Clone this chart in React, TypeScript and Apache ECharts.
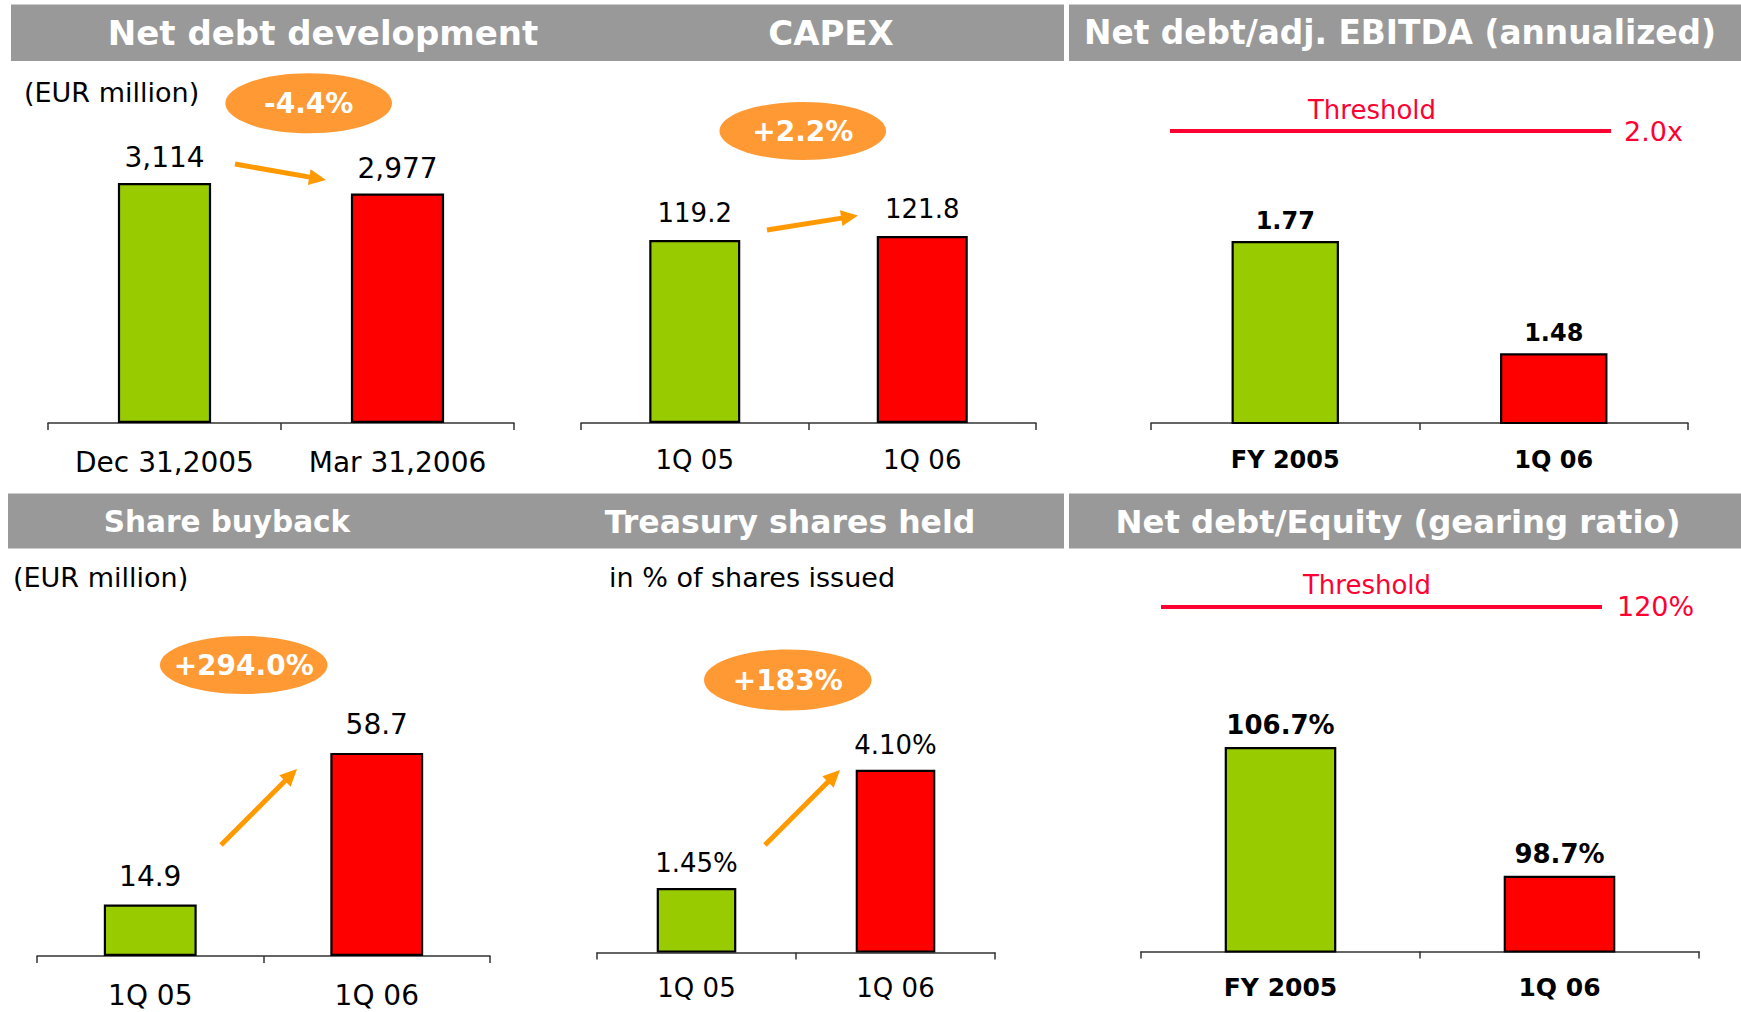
import React, { useEffect, useRef } from 'react';
import * as echarts from 'echarts';

// ---------- data ----------
const netDebtCategories = ['Dec 31,2005', 'Mar 31,2006'];
const netDebtValues = [3114, 2977];

const capexCategories = ['1Q 05', '1Q 06'];
const capexValues = [119.2, 121.8];

const ebitdaCategories = ['FY 2005', '1Q 06'];
const ebitdaValues = [1.77, 1.48];

const buybackCategories = ['1Q 05', '1Q 06'];
const buybackValues = [14.9, 58.7];

const treasuryCategories = ['1Q 05', '1Q 06'];
const treasuryValues = [1.45, 4.1];

const gearingCategories = ['FY 2005', '1Q 06'];
const gearingValues = [106.7, 98.7];

const panelTitles = [
  'Net debt development',
  'CAPEX',
  'Net debt/adj. EBITDA (annualized)',
  'Share buyback',
  'Treasury shares held',
  'Net debt/Equity (gearing ratio)',
];
const subtitles = ['(EUR million)', '(EUR million)', 'in % of shares issued'];
const changeLabels = ['-4.4%', '+2.2%', '+294.0%', '+183%'];
const thresholdLabel = 'Threshold';
const thresholdValues = ['2.0x', '120%'];

// ---------- styles ----------
const FONT = '"DejaVu Sans", Verdana, sans-serif';
const GREEN = '#99CC00';
const RED = '#FF0000';
const GRAY = '#999999';
const ORANGE_BG = '#FF9933';
const ORANGE = '#FF9900';
const THRESH = '#FF0033';

type Panel = {
  cats: string[];
  values: number[];
  fmt: (v: number) => string;
  left: number;
  width: number;
  top: number;
  height: number;
  min: number;
  max: number;
  labelSize: number;
  labelBold: boolean;
  labelDist: number;
  axisSize: number;
  axisBold: boolean;
  axisMargin: number;
  barWidth: string;
};

const panels: Panel[] = [
  { cats: netDebtCategories, values: netDebtValues, fmt: (v) => v.toLocaleString('en-US'),
    left: 48, width: 466, top: 114.7, height: 308.3, min: 0, max: 4000,
    labelSize: 28, labelBold: false, labelDist: 11, axisSize: 28, axisBold: false, axisMargin: 25, barWidth: '40%' },
  { cats: capexCategories, values: capexValues, fmt: (v) => v.toFixed(1),
    left: 581, width: 455, top: 116, height: 307, min: 0, max: 200,
    labelSize: 26, labelBold: false, labelDist: 14, axisSize: 26, axisBold: false, axisMargin: 24, barWidth: '40%' },
  { cats: ebitdaCategories, values: ebitdaValues, fmt: (v) => v.toFixed(2),
    left: 1151, width: 537, top: 113.3, height: 309.7, min: 1.3, max: 2.1,
    labelSize: 24, labelBold: true, labelDist: 8, axisSize: 24, axisBold: true, axisMargin: 25, barWidth: '40%' },
  { cats: buybackCategories, values: buybackValues, fmt: (v) => v.toFixed(1),
    left: 37, width: 453, top: 679.2, height: 276.8, min: 0, max: 80,
    labelSize: 28, labelBold: false, labelDist: 14, axisSize: 28, axisBold: false, axisMargin: 25, barWidth: '41%' },
  { cats: treasuryCategories, values: treasuryValues, fmt: (v) => v.toFixed(2) + '%',
    left: 597, width: 398, top: 729.6, height: 223, min: 0, max: 5,
    labelSize: 26, labelBold: false, labelDist: 12, axisSize: 26, axisBold: false, axisMargin: 22, barWidth: '40%' },
  { cats: gearingCategories, values: gearingValues, fmt: (v) => v.toFixed(1) + '%',
    left: 1141, width: 558, top: 613.5, height: 338, min: 94, max: 115,
    labelSize: 26, labelBold: true, labelDist: 9, axisSize: 25, axisBold: true, axisMargin: 23, barWidth: '40%' },
];

function arrow(x1: number, y1: number, x2: number, y2: number) {
  const dx = x2 - x1, dy = y2 - y1;
  const len = Math.sqrt(dx * dx + dy * dy);
  const ux = dx / len, uy = dy / len;
  const hl = 17, hw = 8;
  const bx = x2 - ux * hl, by = y2 - uy * hl;
  return [
    { type: 'line', shape: { x1, y1, x2: bx + ux * 2, y2: by + uy * 2 }, style: { stroke: ORANGE, lineWidth: 5 } },
    { type: 'polygon', shape: { points: [[x2, y2], [bx - uy * hw, by + ux * hw], [bx + uy * hw, by - ux * hw]] }, style: { fill: ORANGE } },
  ];
}

function txt(text: string, x: number, y: number, size: number, color: string, bold = false, align = 'center') {
  return {
    type: 'text', x, y,
    style: { text, fill: color, fontSize: size, fontWeight: bold ? 'bold' : 'normal', fontFamily: FONT, align, verticalAlign: 'middle' },
  };
}

function bubble(text: string, cx: number, cy: number, rx: number, ry: number) {
  return [
    { type: 'ellipse', shape: { cx, cy, rx, ry }, style: { fill: ORANGE_BG } },
    txt(text, cx, cy, 28, '#FFFFFF', true),
  ];
}

function threshold(label: string, val: string, x1: number, x2: number, y: number, labelX: number, labelY: number, valX: number, valY: number) {
  return [
    txt(label, labelX, labelY, 26, THRESH),
    { type: 'line', shape: { x1, y1: y, x2, y2: y }, style: { stroke: THRESH, lineWidth: 4 } },
    txt(val, valX, valY, 27, THRESH, false, 'left'),
  ];
}

export default function App() {
  const ref = useRef<HTMLDivElement>(null);
  useEffect(() => {
    document.body.style.margin = '0';
    const chart = echarts.init(ref.current!, undefined, { renderer: 'svg' });

    const graphic: any[] = [
      // headers
      { type: 'rect', shape: { x: 11, y: 4.5, width: 1053, height: 56.5 }, style: { fill: GRAY } },
      { type: 'rect', shape: { x: 1069, y: 4.5, width: 672, height: 56.5 }, style: { fill: GRAY } },
      { type: 'rect', shape: { x: 8, y: 493.5, width: 1056, height: 55 }, style: { fill: GRAY } },
      { type: 'rect', shape: { x: 1069, y: 493.5, width: 672, height: 55 }, style: { fill: GRAY } },
      txt(panelTitles[0], 323, 33, 34, '#FFFFFF', true),
      txt(panelTitles[1], 831, 33, 34, '#FFFFFF', true),
      txt(panelTitles[2], 1400, 33, 32.8, '#FFFFFF', true),
      txt(panelTitles[3], 227, 522, 29.5, '#FFFFFF', true),
      txt(panelTitles[4], 790, 522, 31.5, '#FFFFFF', true),
      txt(panelTitles[5], 1398, 522, 32.3, '#FFFFFF', true),
      // subtitles
      txt(subtitles[0], 24, 92, 27, '#000000', false, 'left'),
      txt(subtitles[1], 13, 577, 27, '#000000', false, 'left'),
      txt(subtitles[2], 609, 577, 27, '#000000', false, 'left'),
      // change bubbles
      ...bubble(changeLabels[0], 308.7, 103.3, 83.3, 30),
      ...bubble(changeLabels[1], 802.8, 131, 83.3, 29),
      ...bubble(changeLabels[2], 243.7, 665, 83.8, 29),
      ...bubble(changeLabels[3], 787.8, 680, 83.8, 30.5),
      // arrows
      ...arrow(235, 164, 326, 180),
      ...arrow(767, 230, 858, 215.5),
      ...arrow(221, 845, 297, 769),
      ...arrow(765, 845, 840, 770),
      // thresholds
      ...threshold(thresholdLabel, thresholdValues[0], 1170, 1611, 131, 1372, 110, 1624, 131),
      ...threshold(thresholdLabel, thresholdValues[1], 1161, 1602, 607, 1367, 585, 1617, 606),
    ];

    const option: any = {
      animation: false,
      textStyle: { fontFamily: FONT },
      grid: panels.map((p) => ({ left: p.left, top: p.top, width: p.width, height: p.height, containLabel: false, outerBoundsMode: 'none' })),
      xAxis: panels.map((p, i) => ({
        type: 'category',
        gridIndex: i,
        data: p.cats,
        axisLine: { show: true, lineStyle: { color: '#333333', width: 1.5 } },
        axisTick: { show: true, length: 7, lineStyle: { color: '#333333', width: 1.5 } },
        axisLabel: { fontSize: p.axisSize, fontWeight: p.axisBold ? 'bold' : 'normal', color: '#000000', margin: p.axisMargin, fontFamily: FONT },
        splitLine: { show: false },
      })),
      yAxis: panels.map((p, i) => ({
        type: 'value', gridIndex: i, min: p.min, max: p.max, show: false, splitLine: { show: false },
      })),
      series: panels.map((p, i) => ({
        type: 'bar',
        xAxisIndex: i,
        yAxisIndex: i,
        barWidth: p.barWidth,
        data: p.values.map((v, j) => ({ value: v, itemStyle: { color: j === 0 ? GREEN : RED } })),
        itemStyle: { borderColor: '#000000', borderWidth: 2.2 },
        label: {
          show: true, position: 'top', distance: p.labelDist,
          fontSize: p.labelSize, fontWeight: p.labelBold ? 'bold' : 'normal', color: '#000000', fontFamily: FONT,
          formatter: (d: any) => p.fmt(d.value),
        },
      })),
      graphic,
    };
    chart.setOption(option);
    return () => chart.dispose();
  }, []);
  return <div ref={ref} style={{ position: 'absolute', left: 0, top: 0, width: 1741, height: 1012, background: '#ffffff' }} />;
}
